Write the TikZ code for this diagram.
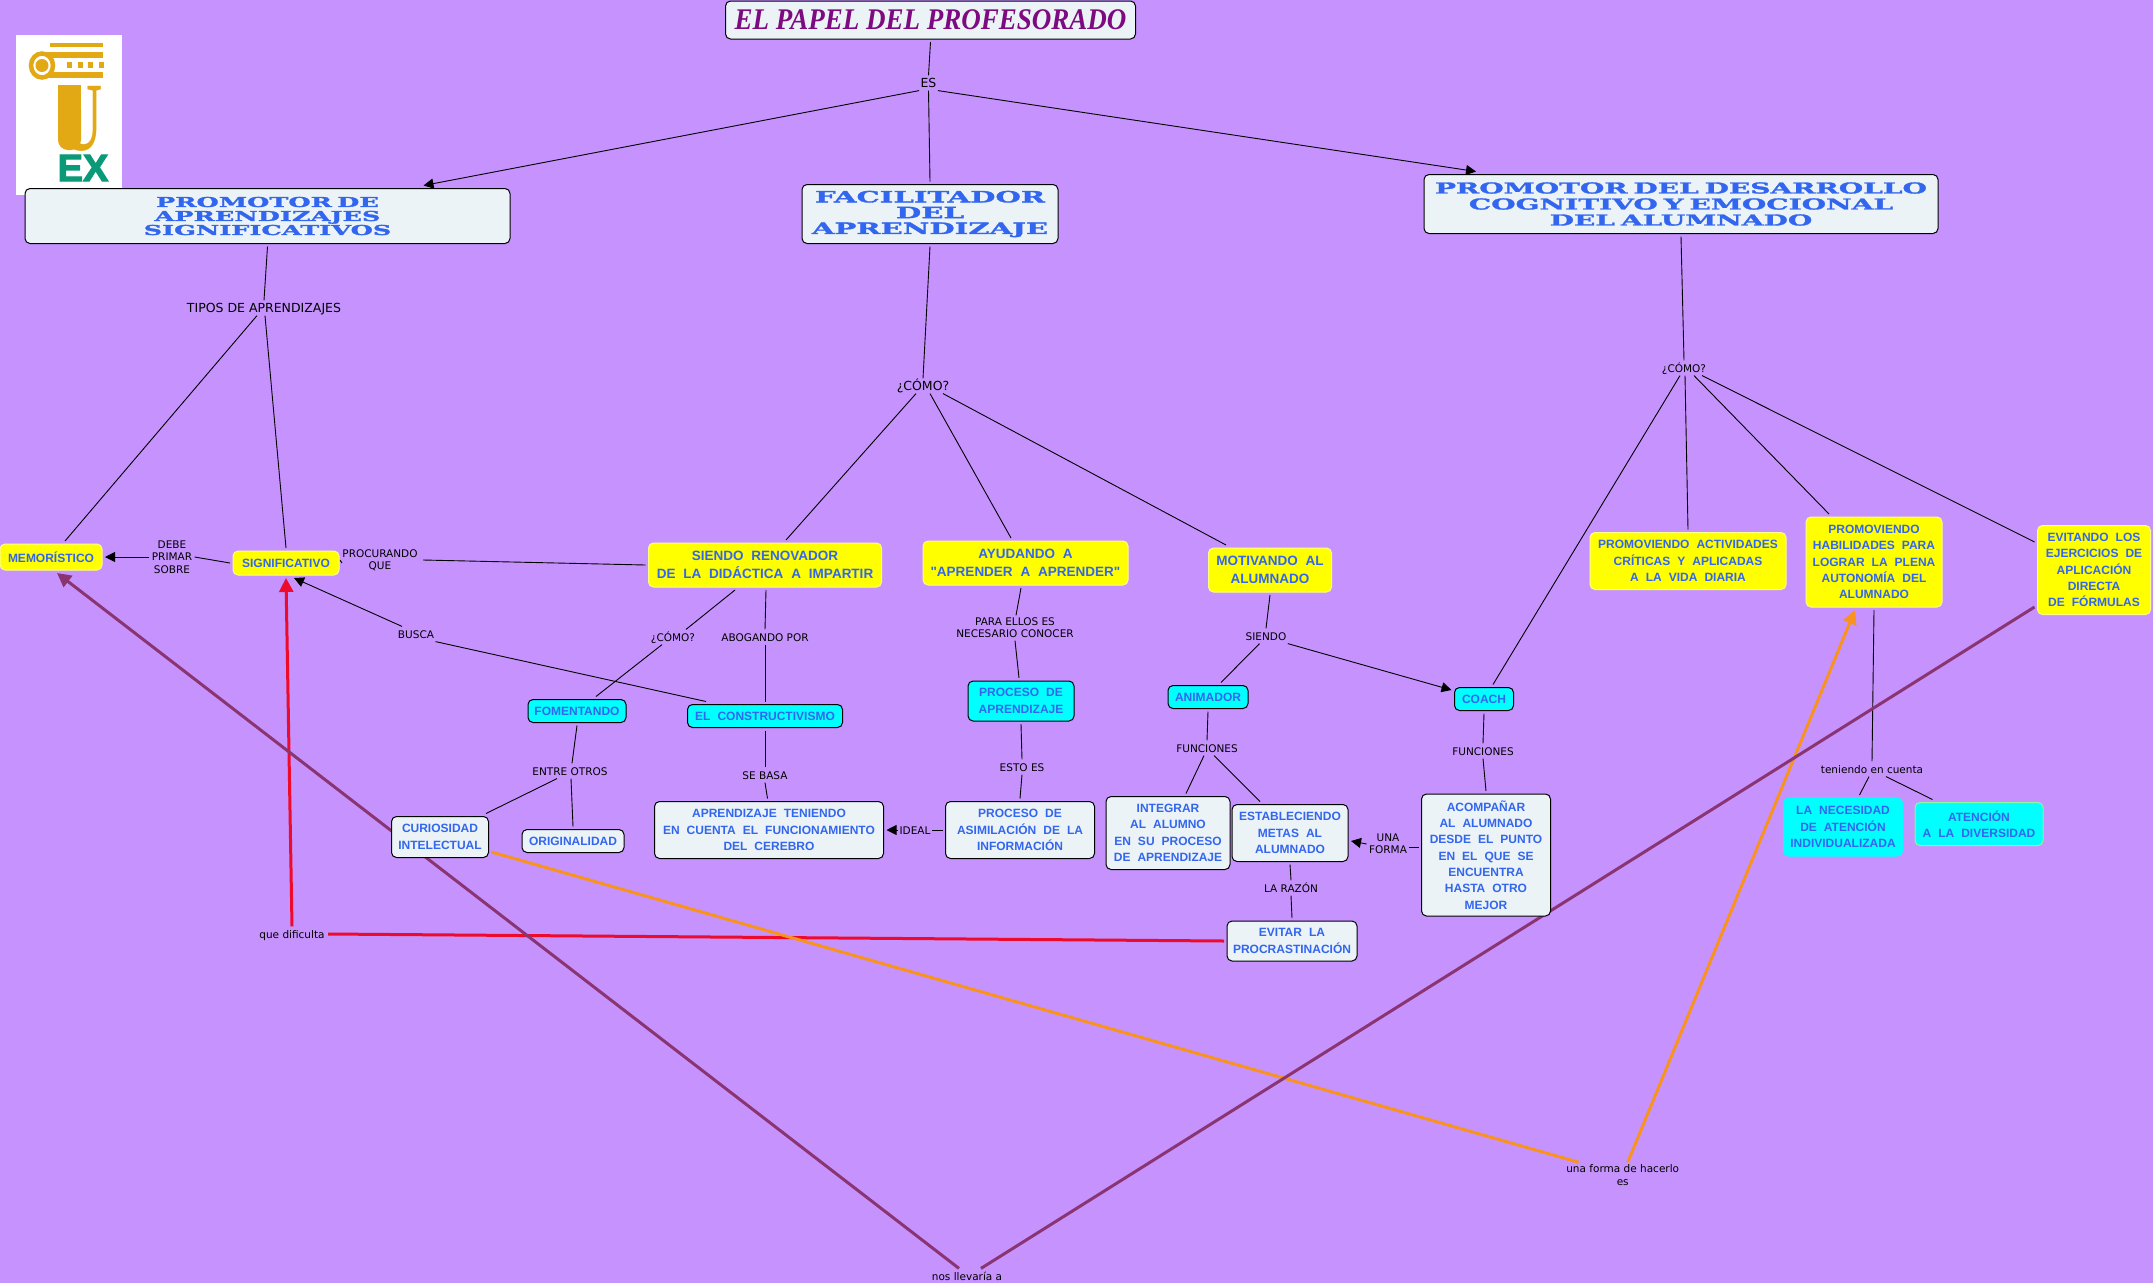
\documentclass[tikz,border=0pt]{standalone}
\usepackage{fontspec}
\usetikzlibrary{arrows.meta,backgrounds}
\setmainfont{Liberation Sans}
\newfontfamily\boxfont[WordSpace=2.1]{Liberation Sans}
\newfontfamily\headfont[FakeStretch=1.88,WordSpace=0.6,BoldFeatures={FakeBold=2}]{DejaVu Serif}
\newfontfamily\titlefont[FakeStretch=0.9]{Liberation Serif}
\newfontfamily\logofont[BoldFeatures={FakeBold=3}]{Liberation Sans}
\newfontfamily\linkfont{DejaVu Sans}
\definecolor{pagebg}{HTML}{C693FE}
\definecolor{boxblue}{HTML}{3366EE}
\definecolor{paleblue}{HTML}{EBF3F7}
\definecolor{boxyellow}{HTML}{FFFF00}
\definecolor{edgeyellow}{HTML}{FFFF80}
\definecolor{boxcyan}{HTML}{00FFFF}
\definecolor{edgegreen}{HTML}{7FFF9F}
\definecolor{titlepurple}{HTML}{7D0A80}
\definecolor{linkpurple}{HTML}{8A3572}
\definecolor{linkorange}{HTML}{F7931E}
\definecolor{linkred}{HTML}{EE0A2A}
\definecolor{logogold}{HTML}{E2A914}
\definecolor{logogreen}{HTML}{0A9A78}
\tikzset{
    box/.style={rectangle,rounded corners=5pt,draw=black,line width=1pt,fill=paleblue,
        inner sep=0pt,outer sep=3pt,align=center,text=boxblue,
        font=\boxfont\bfseries\fontsize{12}{16.3}\selectfont},
    headbox/.style={box},
    yellowbox/.style={box,draw=edgeyellow,fill=boxyellow},
    bigyellow/.style={yellowbox,font=\boxfont\bfseries\fontsize{13.5}{18.3}\selectfont},
    cyanbox/.style={box,fill=boxcyan},
    multilink/.style={inner sep=0pt,outer sep=2.5pt,align=center,
        font=\linkfont\fontsize{10.5}{12.3}\selectfont},
    link/.style={multilink,outer sep=1.5pt,text height=10.5pt,text depth=1.7pt},
    biglink/.style={link,font=\linkfont\fontsize{12.5}{14}\selectfont},
    conn/.style={draw=black,line width=0.9pt},
    arrowconn/.style={conn,-{Triangle[length=10pt,width=10pt]}},
    crossconn/.style={line width=3pt,-{Triangle[length=14pt,width=14pt]}}
}
\newcommand{\headsize}[2]{\headfont\bfseries\fontsize{#1}{#2}\selectfont\lineskiplimit=-20pt}
\begin{document}
\begin{tikzpicture}[x=1pt,y=-1pt]
    \useasboundingbox (0,0) rectangle (2153,1283);
    % concepts
    \node[box,minimum width=410pt,minimum height=38pt,font=\titlefont\bfseries\itshape\fontsize{30}{32}\selectfont,text=titlepurple] (title) at (930.5,20) {EL PAPEL DEL PROFESORADO};
    \node[headbox,minimum width=485pt,minimum height=55pt,font=\headsize{13.6}{14}] (promA) at (267.5,216) {PROMOTOR DE\\APRENDIZAJES\\SIGNIFICATIVOS};
    \node[headbox,minimum width=256pt,minimum height=59pt,font=\headsize{15.5}{15.8}] (facil) at (930,214) {FACILITADOR\\DEL\\APRENDIZAJE};
    \node[headbox,minimum width=514pt,minimum height=59pt,font=\headsize{14.9}{16}] (promB) at (1681,204) {PROMOTOR DEL DESARROLLO\\COGNITIVO Y EMOCIONAL\\DEL ALUMNADO};
    \node[yellowbox,minimum width=102pt,minimum height=26pt] (mem) at (51,557) {MEMORÍSTICO};
    \node[yellowbox,minimum width=106pt,minimum height=24pt] (signif) at (286,563) {SIGNIFICATIVO};
    \node[bigyellow,minimum width=233pt,minimum height=44pt] (renov) at (765,565) {SIENDO RENOVADOR\\DE LA DIDÁCTICA A IMPARTIR};
    \node[bigyellow,minimum width=205pt,minimum height=44pt] (ayud) at (1025.5,563) {AYUDANDO A\\"APRENDER A APRENDER"};
    \node[bigyellow,minimum width=123pt,minimum height=44pt] (motiv) at (1270,570) {MOTIVANDO AL\\ALUMNADO};
    \node[yellowbox,minimum width=196pt,minimum height=57pt] (activ) at (1688,561) {PROMOVIENDO ACTIVIDADES\\CRÍTICAS Y APLICADAS\\A LA VIDA DIARIA};
    \node[yellowbox,minimum width=136pt,minimum height=90pt] (habil) at (1874,562) {PROMOVIENDO\\HABILIDADES PARA\\LOGRAR LA PLENA\\AUTONOMÍA DEL\\ALUMNADO};
    \node[yellowbox,minimum width=113pt,minimum height=89pt] (evit) at (2094,570) {EVITANDO LOS\\EJERCICIOS DE\\APLICACIÓN\hspace*{8pt}\\DIRECTA\\DE FÓRMULAS};
    \node[cyanbox,minimum width=98pt,minimum height=23pt] (foment) at (577,711) {FOMENTANDO};
    \node[cyanbox,minimum width=155pt,minimum height=23pt] (constr) at (765,716) {EL CONSTRUCTIVISMO};
    \node[cyanbox,minimum width=106pt,minimum height=40pt] (procap) at (1021,701) {PROCESO DE\\APRENDIZAJE};
    \node[cyanbox,minimum width=80pt,minimum height=23pt] (anim) at (1208,697) {ANIMADOR};
    \node[cyanbox,minimum width=59pt,minimum height=23pt] (coach) at (1484,699) {COACH};
    \node[cyanbox,draw=boxcyan,minimum width=119pt,minimum height=58pt] (neces) at (1843,827) {LA NECESIDAD\\DE ATENCIÓN\hspace*{8pt}\\INDIVIDUALIZADA};
    \node[cyanbox,draw=edgegreen,minimum width=128pt,minimum height=43pt] (atenc) at (1979,824) {ATENCIÓN\\A LA DIVERSIDAD};
    \node[box,minimum width=97pt,minimum height=41pt] (curios) at (440,837) {CURIOSIDAD\\INTELECTUAL};
    \node[box,minimum width=102pt,minimum height=23pt] (origin) at (573,841) {ORIGINALIDAD};
    \node[box,minimum width=229pt,minimum height=57pt] (aprend) at (769,830) {APRENDIZAJE TENIENDO\\EN CUENTA EL FUNCIONAMIENTO\\DEL CEREBRO};
    \node[box,minimum width=149pt,minimum height=57pt] (asimil) at (1020,830) {PROCESO DE\\ASIMILACIÓN DE LA\\INFORMACIÓN};
    \node[box,minimum width=124pt,minimum height=73pt] (integ) at (1168,833) {INTEGRAR\\AL ALUMNO\\EN SU PROCESO\\DE APRENDIZAJE};
    \node[box,minimum width=116pt,minimum height=57pt] (estab) at (1290,833) {ESTABLECIENDO\\METAS AL\\ALUMNADO};
    \node[box,minimum width=129pt,minimum height=122pt] (acomp) at (1486,855) {ACOMPAÑAR\\AL ALUMNADO\\DESDE EL PUNTO\\EN EL QUE SE\\ENCUENTRA\\HASTA OTRO\\MEJOR};
    \node[box,minimum width=130pt,minimum height=40pt] (procr) at (1292,941) {EVITAR LA\\PROCRASTINACIÓN};
    % linking phrases
    \node[biglink] (es) at (928.5,83) {ES};
    \node[biglink] (tipos) at (264,308) {TIPOS DE APRENDIZAJES};
    \node[biglink] (como) at (923,386) {¿CÓMO?};
    \node[link] (comoR) at (1684,368) {¿CÓMO?};
    \node[link] (teniendo) at (1872,769) {teniendo en cuenta};
    \node[multilink] (debe) at (172,557) {DEBE\\PRIMAR\\SOBRE};
    \node[multilink] (proc) at (380,560) {PROCURANDO\\QUE};
    \node[link] (busca) at (416,634) {BUSCA};
    \node[link] (comoS) at (673,637) {¿CÓMO?};
    \node[link] (abog) at (765,637) {ABOGANDO POR};
    \node[link] (entre) at (570,771) {ENTRE OTROS};
    \node[link] (sebasa) at (765,775) {SE BASA};
    \node[link] (dific) at (292,934) {que dificulta};
    \node[multilink] (para) at (1015,628) {PARA ELLOS ES\\NECESARIO CONOCER};
    \node[link] (esto) at (1022,767) {ESTO ES};
    \node[link] (siendo) at (1266,636) {SIENDO};
    \node[link] (funcA) at (1207,748) {FUNCIONES};
    \node[link] (funcB) at (1483,751) {FUNCIONES};
    \node[link] (ideal) at (915,830) {IDEAL};
    \node[multilink] (una) at (1388,844) {UNA\\FORMA};
    \node[link] (razon) at (1291,888) {LA RAZÓN};
    \node[multilink] (forma) at (1622.7,1175) {una forma de hacerlo\\es};
    \node[link] (llev) at (967,1276) {nos llevaría a};
    \begin{scope}[on background layer]
        \fill[pagebg] (0,0) rectangle (2153,1283);
        % logo
        \fill[white] (16,35) rectangle (122,195);
        \fill[logogold] (50,43) rectangle (103,47);
        \fill[logogold] (45,52) rectangle (103,58);
        \fill[logogold] (45,72) rectangle (103,78);
        \foreach \i in {0,...,3} \fill[logogold] (67+10.5*\i,62) rectangle ++(5,6);
        \filldraw[fill=white,draw=logogold,line width=4.5pt] (42,65.5) ellipse (11pt and 12pt);
        \fill[logogold] (42,65.5) circle (6.5pt);
        \fill[logogold] (58,85) rectangle (81,120);
        \fill[logogold,rounded corners=10pt] (58,100) rectangle (81,150);
        \node[inner sep=0pt,text=logogold,xscale=0.68,transform shape,font=\titlefont\bfseries\fontsize{98}{98}\selectfont] (logoU) at (81,119) {U};
        \node[inner sep=0pt,text=logogreen,font=\logofont\bfseries\fontsize{38}{38}\selectfont] (logoEX) at (83,168) {EX};
        % connectors
        \draw[conn] (title.south) -- (es.north);
        \draw[arrowconn] (es.south west) -- ([xshift=156pt]promA.north);
        \draw[conn] (es.south) -- (facil.north);
        \draw[arrowconn] (es.south east) -- ([xshift=-205pt]promB.north);
        \draw[conn] (promA.south) -- (tipos.north);
        \draw[conn] ([xshift=-7pt]tipos.south) -- ([xshift=14pt]mem.north);
        \draw[conn] ([xshift=1pt]tipos.south) -- (signif.north);
        \draw[conn] (facil.south) -- (como.north);
        \draw[conn] ([xshift=-7pt]como.south) -- ([xshift=21pt]renov.north);
        \draw[conn] ([xshift=7pt]como.south) -- ([xshift=-14.5pt]ayud.north);
        \draw[conn] ([xshift=20pt]como.south) -- ([xshift=-44pt]motiv.north);
        \draw[conn] (promB.south) -- (comoR.north);
        \draw[conn] ([xshift=-4pt]comoR.south) -- ([xshift=9pt]coach.north);
        \draw[conn] ([xshift=1pt]comoR.south) -- (activ.north);
        \draw[conn] ([xshift=10pt]comoR.south) -- ([xshift=-45pt]habil.north);
        \draw[conn] ([xshift=18pt]comoR.south) -- ([yshift=28pt]evit.west);
        \draw[conn] (habil.south) -- (teniendo.north);
        \draw[conn] ([xshift=-3pt]teniendo.south) -- ([xshift=16.5pt]neces.north);
        \draw[conn] ([xshift=14pt]teniendo.south) -- ([xshift=-46.5pt]atenc.north);
        \draw[conn] (signif.west) -- (debe.east);
        \draw[arrowconn] (debe.west) -- (mem.east);
        \draw[conn] (renov.west) -- ([xshift=3pt]proc.east);
        \draw[conn] (proc.west) -- (signif.east);
        \draw[conn] ([xshift=-30pt]renov.south) -- ([xshift=13pt]comoS.north);
        \draw[conn] ([xshift=-11pt]comoS.south) -- ([xshift=19pt]foment.north);
        \draw[conn] ([xshift=1pt]renov.south) -- (abog.north);
        \draw[conn] (abog.south) -- (constr.north);
        \draw[conn] ([xshift=-59pt]constr.north) -- (busca.south east);
        \draw[arrowconn] ([xshift=-14pt]busca.north) -- ([xshift=8pt]signif.south);
        \draw[conn] (foment.south) -- ([xshift=2pt]entre.north);
        \draw[conn] ([xshift=-13pt]entre.south) -- ([xshift=46pt]curios.north);
        \draw[conn] ([xshift=1pt]entre.south) -- (origin.north);
        \draw[conn] (constr.south) -- (sebasa.north);
        \draw[conn] (sebasa.south) -- ([xshift=-1.5pt]aprend.north);
        \draw[conn] ([xshift=-4.5pt]ayud.south) -- ([xshift=1pt]para.north);
        \draw[conn] (para.south) -- ([xshift=-2pt]procap.north);
        \draw[conn] (procap.south) -- (esto.north);
        \draw[conn] (esto.south) -- (asimil.north);
        \draw[conn] (asimil.west) -- (ideal.east);
        \draw[arrowconn] (ideal.west) -- (aprend.east);
        \draw[conn] (motiv.south) -- (siendo.north);
        \draw[conn] ([xshift=-6.5pt]siendo.south) -- ([xshift=13pt]anim.north);
        \draw[arrowconn] (siendo.south east) -- ([yshift=9pt]coach.west);
        \draw[conn] (anim.south) -- (funcA.north);
        \draw[conn] ([xshift=-3pt]funcA.south) -- ([xshift=18pt]integ.north);
        \draw[conn] ([xshift=7pt]funcA.south) -- ([xshift=-30pt]estab.north);
        \draw[conn] (coach.south) -- (funcB.north);
        \draw[conn] (funcB.south) -- (acomp.north);
        \draw[conn] ([yshift=8pt]acomp.west) -- ([yshift=-3pt]una.east);
        \draw[arrowconn] (una.west) -- ([yshift=-8pt]estab.east);
        \draw[conn] (estab.south) -- (razon.north);
        \draw[conn] (razon.south) -- (procr.north);
        % long links across the map
        \draw[crossconn,linkred,-] (procr.west) -- ([xshift=2pt]dific.east);
        \draw[crossconn,linkred] (dific.north) -- (signif.south);
        \draw[crossconn,linkorange,-] ([yshift=-15pt]curios.east) -- ([xshift=-44pt]forma.north);
        \draw[crossconn,linkorange] ([xshift=5pt]forma.north) -- ([xshift=-19pt]habil.south);
        \draw[crossconn,linkpurple,-] ([yshift=-37pt]evit.west) -- ([xshift=14pt]llev.north);
        \draw[crossconn,linkpurple] ([xshift=-8pt]llev.north) -- ([xshift=6pt]mem.south);
    \end{scope}
\end{tikzpicture}
\end{document}
